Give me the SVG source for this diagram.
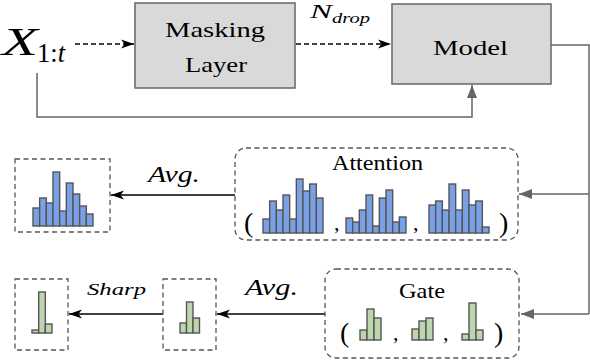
<svg xmlns="http://www.w3.org/2000/svg" width="590" height="360" viewBox="0 0 590 360">
<style>
.box{fill:#d9d9d9;stroke:#666;stroke-width:1.5}
.dbox{fill:none;stroke:#555;stroke-width:1.3;stroke-dasharray:5,3.5}
.blue rect{fill:#7aa0e6;stroke:#555;stroke-width:1.4}
.green rect{fill:#bdd6b0;stroke:#555;stroke-width:1.4}
.gl{fill:none;stroke:#666;stroke-width:1.5}
.bl{fill:none;stroke:#000;stroke-width:1.5}
</style>
<defs>
<marker id="ag" markerWidth="14" markerHeight="10" refX="13" refY="5" orient="auto" markerUnits="userSpaceOnUse">
<path d="M0,0 L13,5 L0,10 Z" fill="#666"/>
</marker>
<marker id="ab" markerWidth="14" markerHeight="10" refX="13" refY="5" orient="auto" markerUnits="userSpaceOnUse">
<path d="M0,0.5 L13,5 L0,9.5 L3.5,5 Z" fill="#000"/>
</marker>
</defs>

<g id="connectors">
<path class="bl" d="M75,44 H134" stroke-dasharray="5,3" marker-end="url(#ab)"/>
<path class="bl" d="M296,44 H391" stroke-dasharray="5,3" marker-end="url(#ab)"/>
<path class="gl" d="M37,73 V117 H472 V85" marker-end="url(#ag)"/>
<path class="gl" d="M551,45 H589 V314"/>
<path class="gl" d="M589,194 H519" marker-end="url(#ag)"/>
<path class="gl" d="M589,314 H521" marker-end="url(#ag)"/>
<path class="bl" d="M235,195 H111" marker-end="url(#ab)"/>
<path class="bl" d="M325,314 H217" marker-end="url(#ab)"/>
<path class="bl" d="M163,314 H69" marker-end="url(#ab)"/>
<text font-family="Liberation Serif" font-style="italic" x="310" y="18" font-size="19" textLength="22" lengthAdjust="spacingAndGlyphs">N</text>
<text font-family="Liberation Serif" font-style="italic" x="332" y="23" font-size="14" textLength="38" lengthAdjust="spacingAndGlyphs">drop</text>
<text font-family="Liberation Serif" font-style="italic" x="148" y="182" font-size="23" textLength="52" lengthAdjust="spacingAndGlyphs">Avg.</text>
<text font-family="Liberation Serif" font-style="italic" x="245" y="295" font-size="23" textLength="53" lengthAdjust="spacingAndGlyphs">Avg.</text>
<text font-family="Liberation Serif" font-style="italic" x="87" y="295" font-size="17" textLength="59" lengthAdjust="spacingAndGlyphs">Sharp</text>
</g>

<g id="input">
<text font-family="Liberation Serif" font-style="italic" x="2" y="55" font-size="40" textLength="36" lengthAdjust="spacingAndGlyphs">X</text>
<text font-family="Liberation Serif" x="37" y="62" font-size="28" textLength="28" lengthAdjust="spacingAndGlyphs">1:<tspan font-style="italic">t</tspan></text>
</g>

<g id="masking">
<rect class="box" x="135" y="3" width="160" height="85"/>
<text font-family="Liberation Serif" x="165" y="37" font-size="21" textLength="100" lengthAdjust="spacingAndGlyphs">Masking</text>
<text font-family="Liberation Serif" x="185" y="72" font-size="21" textLength="62" lengthAdjust="spacingAndGlyphs">Layer</text>
</g>

<g id="model">
<rect class="box" x="392" y="4" width="159" height="80"/>
<text font-family="Liberation Serif" x="433" y="55" font-size="21" textLength="75" lengthAdjust="spacingAndGlyphs">Model</text>
</g>

<g id="attention">
<rect class="dbox" x="235" y="148" width="283" height="92" rx="11"/>
<text font-family="Liberation Serif" x="332" y="170" font-size="21" textLength="91" lengthAdjust="spacingAndGlyphs">Attention</text>
<text font-family="Liberation Serif" x="244" y="232" font-size="28">(</text>
<text font-family="Liberation Serif" x="334" y="230" font-size="22">,</text>
<text font-family="Liberation Serif" x="413" y="230" font-size="22">,</text>
<text font-family="Liberation Serif" x="499" y="232" font-size="28">)</text>
<g class="blue" transform="translate(263,233)">
<rect x="0" y="-14" width="6.67" height="14"/><rect x="6.67" y="-32" width="6.67" height="32"/><rect x="13.33" y="-23" width="6.67" height="23"/><rect x="20" y="-38" width="6.67" height="38"/><rect x="26.67" y="-14" width="6.67" height="14"/><rect x="33.33" y="-54" width="6.67" height="54"/><rect x="40" y="-42" width="6.67" height="42"/><rect x="46.67" y="-49" width="6.67" height="49"/><rect x="53.33" y="-35" width="6.67" height="35"/>
</g>
<g class="blue" transform="translate(346,233)">
<rect x="0" y="-15" width="6.67" height="15"/><rect x="6.67" y="-11" width="6.67" height="11"/><rect x="13.33" y="-23" width="6.67" height="23"/><rect x="20" y="-38" width="6.67" height="38"/><rect x="26.67" y="-7" width="6.67" height="7"/><rect x="33.33" y="-35" width="6.67" height="35"/><rect x="40" y="-43" width="6.67" height="43"/><rect x="46.67" y="-11" width="6.67" height="11"/><rect x="53.33" y="-16" width="6.67" height="16"/>
</g>
<g class="blue" transform="translate(429,233)">
<rect x="0" y="-28" width="6.67" height="28"/><rect x="6.67" y="-32" width="6.67" height="32"/><rect x="13.33" y="-23" width="6.67" height="23"/><rect x="20" y="-49" width="6.67" height="49"/><rect x="26.67" y="-23" width="6.67" height="23"/><rect x="33.33" y="-43" width="6.67" height="43"/><rect x="40" y="-28" width="6.67" height="28"/><rect x="46.67" y="-32" width="6.67" height="32"/><rect x="53.33" y="-6" width="6.67" height="6"/>
</g>
</g>

<g id="attn-avg">
<rect class="dbox" x="15" y="159" width="95" height="73"/>
<g class="blue" transform="translate(33,226)">
<rect x="0" y="-18" width="6.67" height="18"/><rect x="6.67" y="-28" width="6.67" height="28"/><rect x="13.33" y="-23" width="6.67" height="23"/><rect x="20" y="-54" width="6.67" height="54"/><rect x="26.67" y="-15" width="6.67" height="15"/><rect x="33.33" y="-43" width="6.67" height="43"/><rect x="40" y="-32" width="6.67" height="32"/><rect x="46.67" y="-20" width="6.67" height="20"/><rect x="53.33" y="-12" width="6.67" height="12"/>
</g>
</g>

<g id="gate">
<rect class="dbox" x="325" y="269" width="194" height="89" rx="11"/>
<text font-family="Liberation Serif" x="399" y="298" font-size="22" textLength="46" lengthAdjust="spacingAndGlyphs">Gate</text>
<text font-family="Liberation Serif" x="340" y="342" font-size="28">(</text>
<text font-family="Liberation Serif" x="393" y="340" font-size="22">,</text>
<text font-family="Liberation Serif" x="443" y="340" font-size="22">,</text>
<text font-family="Liberation Serif" x="494" y="342" font-size="28">)</text>
<g class="green" transform="translate(360,340)">
<rect x="0" y="-10" width="7" height="10"/><rect x="7" y="-31" width="7" height="31"/><rect x="14" y="-22" width="7" height="22"/>
</g>
<g class="green" transform="translate(412,340)">
<rect x="0" y="-11" width="7" height="11"/><rect x="7" y="-19" width="7" height="19"/><rect x="14" y="-22" width="7" height="22"/>
</g>
<g class="green" transform="translate(462,340)">
<rect x="0" y="-6" width="7" height="6"/><rect x="7" y="-37" width="7" height="37"/><rect x="14" y="-10" width="7" height="10"/>
</g>
</g>

<g id="gate-avg">
<rect class="dbox" x="163" y="279" width="53" height="71"/>
<g class="green" transform="translate(180,333)">
<rect x="0" y="-10" width="6.5" height="10"/><rect x="6.5" y="-31" width="6.5" height="31"/><rect x="13" y="-15" width="6.5" height="15"/>
</g>
</g>

<g id="gate-sharp">
<rect class="dbox" x="15" y="279" width="53" height="71"/>
<g class="green" transform="translate(32,333)">
<rect x="0" y="-3" width="6.67" height="3"/><rect x="6.67" y="-41" width="6.67" height="41"/><rect x="13.33" y="-9" width="6.67" height="9"/>
</g>
</g>
</svg>
